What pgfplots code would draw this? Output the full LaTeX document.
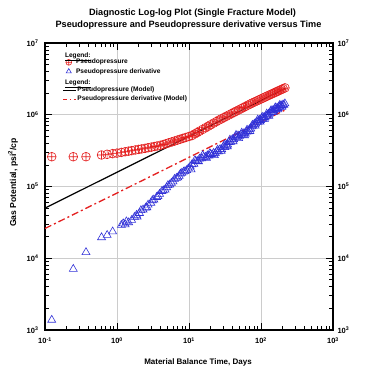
\documentclass[border=0pt]{standalone}
\usepackage{fontspec}
\setmainfont{Liberation Sans}
\usepackage{pgfplots}
\pgfplotsset{compat=1.18}
\definecolor{myred}{RGB}{228,32,32}
\definecolor{myblue}{RGB}{48,48,215}
\pgfplotsset{
  legend image code/.code={\draw[mark repeat=2,mark phase=2,#1] plot coordinates {(0bp,0bp)(6bp,0bp)(12.5bp,0bp)};},
  mylegimg/.style={legend image code/.code={\path[draw=none,fill=none] (0bp,-3bp) rectangle (12.5bp,3bp);\draw[mark repeat=2,mark phase=2,##1,only marks,mark size=2.9bp] plot coordinates {(0bp,0bp)(6bp,0bp)(12.5bp,0bp)};}},
}
\begin{document}
\begin{tikzpicture}
\path[use as bounding box] (-45bp,-46bp) rectangle (333bp,330bp);
\begin{axis}[
  at={(0,0)}, anchor=south west,
  width=288bp, height=287bp, scale only axis,
  xmode=log, ymode=log,
  xmin=0.1, xmax=1000, ymin=1000, ymax=1e7,
  xtick={0.1,1,10,100,1000},
  ytick={1e3,1e4,1e5,1e6,1e7},
  ticklabel style={font=\fontsize{7.5bp}{8bp}\selectfont\bfseries},
  xticklabels={10\textsuperscript{-1},10\textsuperscript{0},10\textsuperscript{1},10\textsuperscript{2},10\textsuperscript{3}},
  yticklabels={10\textsuperscript{3},10\textsuperscript{4},10\textsuperscript{5},10\textsuperscript{6},10\textsuperscript{7}},
  minor xtick={0.2,0.3,0.4,0.5,0.6,0.7,0.8,0.9,2,3,4,5,6,7,8,9,20,30,40,50,60,70,80,90,200,300,400,500,600,700,800,900},
  minor ytick={2e3,3e3,4e3,5e3,6e3,7e3,8e3,9e3,2e4,3e4,4e4,5e4,6e4,7e4,8e4,9e4,2e5,3e5,4e5,5e5,6e5,7e5,8e5,9e5,2e6,3e6,4e6,5e6,6e6,7e6,8e6,9e6},
  tick align=inside,
  major tick length=7bp, minor tick length=4bp,
  grid=major, major grid style={black!20, line width=0.8bp},
  axis line style={line width=1.2bp},
  tick style={black, line width=0.8bp},
  xticklabel style={yshift=-4bp},
  yticklabel style={xshift=-3bp},
  legend style={at={(axis description cs:0.061,0.947)}, anchor=north west,
    draw=none, fill=none, inner sep=0pt, row sep=1.2bp,
    nodes={inner sep=0.8bp},
    font=\fontsize{6.6bp}{7bp}\selectfont\bfseries},
  legend cell align=left,
]
\addplot[only marks, mark=oplus, mark size=4.4bp, myred, mark options={line width=0.6bp}, mylegimg] coordinates {
(0.124,2.6e5)(0.247,2.6e5)(0.371,2.6e5)(0.61,2.75e5)(0.73,2.81e5)(0.87,2.87e5)(1.0,2.92e5)
(1.15,2.99e5)(1.3,3.05e5)(1.45,3.11e5)(1.6,3.16e5)(1.8,3.23e5)(2.0,3.29e5)(2.2,3.34e5)
(2.45,3.40e5)(2.7,3.47e5)(3.0,3.54e5)(3.3,3.61e5)(3.6,3.67e5)(4.0,3.75e5)(4.4,3.85e5)
(4.8,3.95e5)(5.3,4.08e5)(5.8,4.19e5)(6.3,4.30e5)(6.9,4.43e5)(7.5,4.55e5)(8.2,4.68e5)
(9,4.82e5)(10,4.98e5)(11,5.13e5)(12,5.40e5)(13,5.65e5)(14,5.90e5)(15.5,6.25e5)(17,6.59e5)
(18.5,6.92e5)(20,7.24e5)(22,7.64e5)(24,8.03e5)(26,8.41e5)(28,8.74e5)(30.5,9.13e5)(33,9.52e5)
(36,9.95e5)(39,1.037e6)(42,1.078e6)(45,1.117e6)(49,1.167e6)(53,1.215e6)(57,1.262e6)(61,1.307e6)
(66,1.362e6)(71,1.413e6)(76,1.463e6)(82,1.515e6)(88,1.565e6)(94,1.614e6)(100,1.661e6)
(107,1.714e6)(114,1.766e6)(121,1.816e6)(129,1.871e6)(137,1.923e6)(145,1.973e6)(154,2.031e6)
(163,2.084e6)(172,2.138e6)(182,2.193e6)(192,2.248e6)(203,2.307e6)(215,2.37e6)
};
\addlegendentry{Pseudopressure}
\addplot[only marks, mark=triangle, mark size=4.6bp, myblue, mark options={line width=0.6bp}, mylegimg] coordinates {
(0.124,1380)(0.247,7070)(0.371,12100)(0.61,19500)(0.73,21000)(0.87,23500)(1.15,29000)
(1.22,30500)(1.3,29500)(1.35,32500)(1.45,31500)(1.6,34000)(1.75,37500)(1.87,40000)(1.9,38000)
(2.05,42500)(2.15,46500)(2.3,47500)(2.5,50500)(2.6,51000)(2.7,55500)(2.95,59000)(3.1,64000)
(3.25,65500)(3.55,71000)(3.7,73000)(3.9,78500)(4.2,86000)(4.4,88000)(4.65,90000)(4.9,97000)
(5.1,104000)(5.4,106000)(5.7,112000)(6.0,117000)(6.3,127000)(6.7,131000)(7.0,133000)
(7.3,140000)(7.6,150000)(7.95,154000)(8.4,160000)(8.8,163000)(9.3,168000)(9.8,178000)
(10.4,189000)(10.7,172000)(11,203000)(11.7,206000)(12.1,232000)(12.5,224000)(13.2,225000)
(13.6,222000)(14,243000)(15,246000)(15.5,272000)(16,258000)(17,258000)(17.5,250000)
(18,270000)(19,268000)(19.5,290000)(20,282000)(21,278000)(22,292000)(22.5,272000)
(23.2,290000)(24.5,308000)(25,325000)(25.8,306000)(27,330000)(28,312000)(28.5,328000)
(30,356000)(31,380000)(31.5,352000)(33,383000)(34,362000)(34.5,381000)(36,415000)
(37,448000)(38,418000)(40,455000)(41,425000)(42,450000)(44,488000)(45,520000)(46,480000)
(48,512000)(49,470000)(50.5,505000)(53,530000)(54,560000)(55.5,520000)(58,552000)
(59,515000)(60.5,545000)(63,580000)(64,615000)(66,585000)(69,625000)(70,590000)(72,640000)
(75,685000)(76,720000)(78,700000)(81,745000)(83,700000)(84.5,750000)(88,795000)(90,850000)
(91.5,800000)(95,845000)(97,800000)(98.5,840000)(102,885000)(104,930000)(106,875000)
(110,925000)(112,870000)(114,915000)(118,965000)(120,1030000)(122.5,975000)(127,1030000)
(129,960000)(131.5,1035000)(136,1090000)(138,1150000)(141,1090000)(146,1150000)
(148,1080000)(151,1140000)(156,1200000)(158,1260000)(161.5,1185000)(167,1250000)
(170,1180000)(172.5,1235000)(178,1300000)(182,1360000)(184,1290000)(190,1350000)
(195,1280000)(196,1335000)(202,1380000)(208,1370000)(215,1430000)
};
\addlegendentry{Pseudopressure derivative}
\addplot[forget plot, black, line width=1.2bp] coordinates {(0.1,5.0e4)(1,1.58e5)(10,5.0e5)(100,1.58e6)(215,2.32e6)};
\addplot[forget plot, myred, line width=1.3bp, dash pattern=on 7bp off 3bp on 2bp off 3bp] coordinates {(0.1,2.6e4)(1,8.1e4)(10,2.55e5)(100,8.0e5)(215,1.16e6)};
\end{axis}
\begin{axis}[
  at={(0,0)}, anchor=south west,
  width=288bp, height=287bp, scale only axis,
  xmode=log, ymode=log,
  xmin=0.1, xmax=1000, ymin=1000, ymax=1e7,
  ytick={1e3,1e4,1e5,1e6,1e7},
  ticklabel style={font=\fontsize{7.5bp}{8bp}\selectfont\bfseries},
  hide x axis, axis y line*=right,
  y axis line style={draw=none},
  ytick style={draw=none}, minor ytick={},
  yticklabels={10\textsuperscript{3},10\textsuperscript{4},10\textsuperscript{5},10\textsuperscript{6},10\textsuperscript{7}},
  yticklabel style={xshift=1bp},
  legend style={at={(axis description cs:0.061,0.850)}, anchor=north west,
    draw=none, fill=none, inner sep=0pt, row sep=1.2bp,
    nodes={inner sep=0.8bp},
    font=\fontsize{6.6bp}{7bp}\selectfont\bfseries},
  legend cell align=left,
]
\addlegendimage{black, line width=1.2bp}
\addlegendentry{Pseudopressure (Model)}
\addlegendimage{myred, line width=1.3bp, dash pattern=on 4bp off 2.5bp on 1.5bp off 2.5bp}
\addlegendentry{Pseudopressure derivative (Model)}
\end{axis}
\node[anchor=west, font=\fontsize{6.6bp}{7bp}\selectfont\bfseries] at (16.5bp,273.5bp) {\underline{Legend:}};
\node[anchor=west, font=\fontsize{6.6bp}{7bp}\selectfont\bfseries] at (16.5bp,246.5bp) {\underline{Legend:}};
\node[font=\fontsize{9.15bp}{10bp}\selectfont\bfseries] at (147.5bp,317bp) {Diagnostic Log-log Plot (Single Fracture Model)};
\node[font=\fontsize{9.15bp}{10bp}\selectfont\bfseries] at (143.5bp,305bp) {Pseudopressure and Pseudopressure derivative versus Time};
\node[font=\fontsize{8bp}{9bp}\selectfont\bfseries] at (153bp,-32bp) {Material Balance Time, Days};
\node[rotate=90, font=\fontsize{8.6bp}{9bp}\selectfont\bfseries] at (-32bp,147.5bp) {Gas Potential, psi\textsuperscript{2}/cp};
\end{tikzpicture}
\end{document}
